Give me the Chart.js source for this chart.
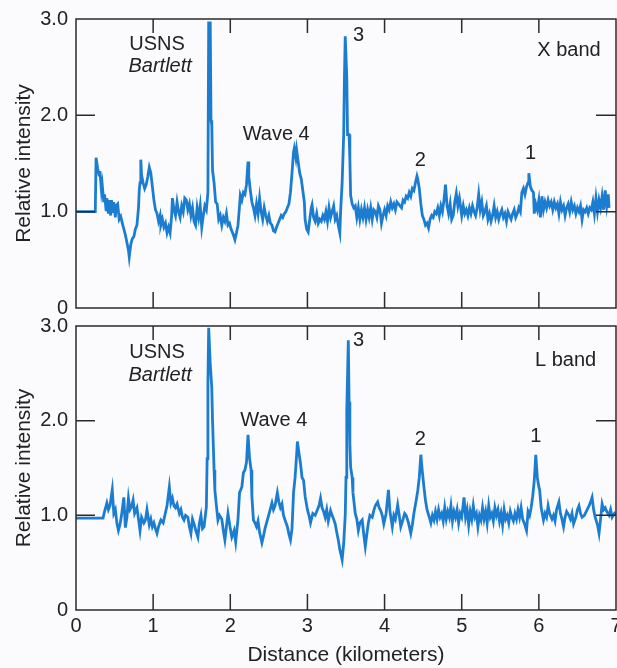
<!DOCTYPE html>
<html>
<head>
<meta charset="utf-8">
<script src="https://cdn.jsdelivr.net/npm/chart.js@4.4.1/dist/chart.umd.min.js"></script>
<style>
  body { margin: 0; background: #fbfbfd; }
  #topChart { position: absolute; left: 0; top: 0; }
  #bottomChart { position: absolute; left: 0; top: 310px; }
</style>
</head>
<body>
<canvas id="topChart" width="617" height="320"></canvas>
<canvas id="bottomChart" width="617" height="358"></canvas>
<script>

// X band trace (distance in km, relative intensity)
const xBandKm = [
  0, 0.25, 0.26, 0.28, 0.30, 0.31, 0.33, 0.34, 0.36, 0.37,
  0.39, 0.40, 0.42, 0.43, 0.45, 0.46, 0.48, 0.49, 0.51, 0.52,
  0.54, 0.56, 0.58, 0.60, 0.62, 0.64, 0.66, 0.68, 0.69, 0.71,
  0.73, 0.75, 0.77, 0.79, 0.81, 0.82, 0.83, 0.84, 0.85, 0.87,
  0.89, 0.91, 0.93, 0.95, 0.97, 0.99, 1.01, 1.03, 1.05, 1.07,
  1.09, 1.10, 1.12, 1.14, 1.16, 1.18, 1.20, 1.22, 1.24, 1.25,
  1.27, 1.29, 1.31, 1.33, 1.35, 1.37, 1.39, 1.41, 1.43, 1.45,
  1.47, 1.49, 1.51, 1.53, 1.55, 1.57, 1.59, 1.61, 1.63, 1.65,
  1.67, 1.69, 1.71, 1.72, 1.74, 1.75, 1.76, 1.77, 1.79, 1.81,
  1.83, 1.85, 1.87, 1.89, 1.91, 1.93, 1.95, 1.97, 1.99, 2.01,
  2.04, 2.06, 2.08, 2.10, 2.12, 2.13, 2.15, 2.17, 2.19, 2.21,
  2.23, 2.24, 2.26, 2.28, 2.30, 2.32, 2.34, 2.36, 2.38, 2.40,
  2.42, 2.44, 2.46, 2.48, 2.50, 2.52, 2.54, 2.56, 2.58, 2.60,
  2.62, 2.64, 2.66, 2.68, 2.70, 2.72, 2.74, 2.76, 2.78, 2.80,
  2.82, 2.83, 2.85, 2.86, 2.88, 2.90, 2.92, 2.94, 2.96, 2.97,
  2.99, 3.01, 3.03, 3.05, 3.06, 3.08, 3.10, 3.12, 3.14, 3.16,
  3.18, 3.20, 3.22, 3.24, 3.26, 3.28, 3.30, 3.32, 3.34, 3.36,
  3.38, 3.40, 3.42, 3.43, 3.45, 3.47, 3.48, 3.49, 3.51, 3.52,
  3.54, 3.55, 3.56, 3.58, 3.60, 3.62, 3.64, 3.66, 3.68, 3.70,
  3.72, 3.74, 3.76, 3.78, 3.80, 3.82, 3.84, 3.86, 3.88, 3.90,
  3.92, 3.94, 3.96, 3.98, 4.00, 4.02, 4.04, 4.06, 4.08, 4.10,
  4.12, 4.14, 4.16, 4.18, 4.20, 4.22, 4.24, 4.26, 4.28, 4.30,
  4.32, 4.34, 4.36, 4.38, 4.40, 4.42, 4.43, 4.45, 4.47, 4.49,
  4.51, 4.53, 4.55, 4.57, 4.59, 4.61, 4.63, 4.65, 4.67, 4.69,
  4.71, 4.73, 4.75, 4.77, 4.79, 4.81, 4.83, 4.85, 4.87, 4.89,
  4.91, 4.93, 4.95, 4.97, 5.00, 5.02, 5.04, 5.06, 5.08, 5.10,
  5.12, 5.14, 5.16, 5.18, 5.20, 5.22, 5.24, 5.26, 5.28, 5.30,
  5.32, 5.34, 5.36, 5.38, 5.40, 5.42, 5.44, 5.46, 5.48, 5.50,
  5.52, 5.54, 5.56, 5.58, 5.60, 5.62, 5.64, 5.66, 5.68, 5.70,
  5.72, 5.74, 5.76, 5.78, 5.80, 5.82, 5.84, 5.86, 5.87, 5.89,
  5.91, 5.93, 5.94, 5.96, 5.98, 6.00, 6.02, 6.04, 6.06, 6.08,
  6.10, 6.12, 6.14, 6.16, 6.18, 6.20, 6.22, 6.24, 6.26, 6.28,
  6.30, 6.32, 6.34, 6.36, 6.38, 6.40, 6.42, 6.44, 6.46, 6.48,
  6.50, 6.52, 6.54, 6.56, 6.58, 6.60, 6.62, 6.64, 6.66, 6.68,
  6.70, 6.72, 6.74, 6.76, 6.78, 6.80, 6.82, 6.84, 6.86, 6.88,
  6.90, 6.91
];
const xBandIntensity = [
  1.00, 1.00, 1.56, 1.45, 1.38, 1.42, 1.22, 1.28, 1.10, 1.18,
  1.02, 1.14, 0.98, 1.12, 0.96, 1.12, 1.00, 1.10, 0.94, 1.06,
  1.08, 0.92, 0.95, 0.88, 0.82, 0.76, 0.68, 0.60, 0.53, 0.66,
  0.72, 0.74, 0.82, 0.86, 1.04, 1.22, 1.30, 1.54, 1.38, 1.30,
  1.24, 1.28, 1.36, 1.46, 1.40, 1.26, 1.12, 1.02, 0.98, 0.90,
  0.96, 0.86, 0.92, 0.84, 0.88, 0.78, 0.84, 0.78, 0.96, 1.14,
  1.02, 0.96, 1.10, 1.00, 0.94, 1.06, 1.00, 1.14, 1.12, 1.02,
  1.08, 0.96, 1.04, 0.90, 0.86, 1.04, 0.94, 1.06, 0.84, 0.96,
  1.06, 1.02, 1.20, 2.96, 2.96, 1.95, 1.90, 1.43, 1.30, 1.10,
  1.08, 0.92, 0.96, 0.86, 0.94, 0.90, 0.98, 0.86, 0.88, 0.82,
  0.76, 0.71, 0.78, 0.86, 1.06, 1.17, 1.12, 1.20, 1.18, 1.28,
  1.52, 1.36, 1.22, 1.10, 1.04, 0.96, 1.08, 0.98, 1.14, 1.00,
  0.92, 1.04, 0.96, 0.90, 0.96, 0.88, 0.86, 0.80, 0.79, 0.84,
  0.88, 0.92, 0.96, 0.94, 0.98, 1.00, 1.04, 1.08, 1.20, 1.40,
  1.62, 1.66, 1.56, 1.64, 1.52, 1.40, 1.34, 1.22, 1.10, 0.92,
  0.82, 0.79, 0.92, 1.04, 1.07, 0.94, 0.90, 0.98, 0.88, 0.92,
  0.90, 0.96, 0.92, 1.00, 0.90, 1.04, 0.94, 1.00, 1.06, 0.92,
  0.96, 0.86, 0.78, 1.00, 1.30, 1.80, 2.40, 2.82, 2.40, 1.80,
  1.80, 1.55, 1.17, 1.08, 1.04, 1.06, 0.94, 1.04, 0.92, 1.02,
  0.94, 1.04, 0.92, 1.02, 0.94, 1.04, 0.92, 1.02, 1.00, 0.94,
  1.06, 1.02, 0.88, 0.96, 1.02, 0.96, 1.06, 1.02, 1.10, 1.04,
  1.08, 1.02, 1.10, 1.08, 1.06, 1.04, 1.12, 1.10, 1.16, 1.14,
  1.20, 1.16, 1.24, 1.22, 1.30, 1.37, 1.34, 1.24, 1.08, 0.96,
  0.92, 0.86, 0.88, 0.83, 0.92, 0.96, 0.94, 1.00, 0.98, 1.04,
  0.96, 1.06, 1.00, 1.12, 1.28, 1.06, 0.98, 1.08, 0.92, 0.96,
  1.10, 1.19, 1.06, 1.14, 0.96, 1.06, 0.98, 1.02, 0.96, 1.04,
  0.98, 1.06, 1.00, 0.96, 1.04, 1.18, 1.02, 1.10, 0.96, 1.00,
  1.06, 0.92, 0.98, 0.90, 0.96, 1.06, 0.94, 1.00, 0.92, 0.98,
  1.02, 0.94, 0.98, 0.90, 1.00, 0.96, 0.92, 0.98, 1.02, 0.94,
  0.98, 1.04, 1.00, 1.20, 1.24, 1.18, 1.26, 1.30, 1.40, 1.26,
  1.22, 1.20, 0.98, 1.08, 1.02, 1.12, 0.94, 1.16, 1.02, 1.10,
  1.04, 1.12, 1.06, 1.10, 1.02, 1.10, 1.04, 1.08, 0.98, 1.10,
  1.02, 1.06, 0.96, 1.04, 1.08, 1.00, 1.10, 1.02, 1.06, 0.98,
  1.04, 1.00, 1.06, 0.92, 1.02, 1.00, 1.04, 0.98, 1.04, 1.02,
  1.10, 0.98, 1.14, 1.00, 1.12, 1.04, 1.16, 1.02, 1.22, 1.06,
  1.18, 1.04
];

// L band trace
const lBandKm = [
  0, 0.35, 0.37, 0.40, 0.42, 0.44, 0.47, 0.49, 0.51, 0.53,
  0.55, 0.57, 0.59, 0.62, 0.64, 0.66, 0.68, 0.70, 0.72, 0.74,
  0.76, 0.79, 0.81, 0.83, 0.85, 0.88, 0.90, 0.92, 0.95, 0.97,
  0.99, 1.01, 1.03, 1.05, 1.07, 1.10, 1.13, 1.16, 1.18, 1.21,
  1.23, 1.25, 1.27, 1.29, 1.31, 1.34, 1.36, 1.38, 1.40, 1.42,
  1.45, 1.47, 1.49, 1.51, 1.53, 1.55, 1.58, 1.60, 1.62, 1.64,
  1.66, 1.68, 1.69, 1.70, 1.71, 1.72, 1.74, 1.76, 1.77, 1.79,
  1.80, 1.82, 1.84, 1.86, 1.89, 1.91, 1.93, 1.95, 1.97, 2.00,
  2.02, 2.05, 2.07, 2.10, 2.12, 2.15, 2.17, 2.19, 2.21, 2.23,
  2.25, 2.27, 2.28, 2.30, 2.32, 2.34, 2.36, 2.38, 2.41, 2.43,
  2.45, 2.48, 2.51, 2.54, 2.56, 2.58, 2.61, 2.63, 2.65, 2.67,
  2.69, 2.71, 2.74, 2.76, 2.78, 2.80, 2.82, 2.84, 2.86, 2.87,
  2.89, 2.91, 2.93, 2.95, 2.97, 3.00, 3.02, 3.04, 3.07, 3.10,
  3.12, 3.15, 3.17, 3.19, 3.21, 3.23, 3.25, 3.27, 3.30, 3.32,
  3.34, 3.36, 3.38, 3.40, 3.42, 3.45, 3.47, 3.49, 3.50, 3.51,
  3.53, 3.54, 3.55, 3.56, 3.58, 3.59, 3.62, 3.64, 3.66, 3.68,
  3.71, 3.73, 3.75, 3.77, 3.79, 3.81, 3.84, 3.86, 3.88, 3.91,
  3.93, 3.95, 3.97, 3.99, 4.02, 4.05, 4.07, 4.10, 4.12, 4.14,
  4.17, 4.19, 4.21, 4.24, 4.26, 4.28, 4.31, 4.34, 4.36, 4.38,
  4.41, 4.43, 4.45, 4.47, 4.49, 4.51, 4.53, 4.55, 4.58, 4.60,
  4.62, 4.64, 4.66, 4.68, 4.70, 4.72, 4.74, 4.76, 4.78, 4.80,
  4.82, 4.84, 4.86, 4.88, 4.90, 4.92, 4.94, 4.96, 4.98, 5.00,
  5.03, 5.05, 5.07, 5.09, 5.11, 5.13, 5.15, 5.17, 5.19, 5.21,
  5.23, 5.25, 5.27, 5.29, 5.31, 5.33, 5.35, 5.37, 5.39, 5.41,
  5.43, 5.45, 5.47, 5.49, 5.51, 5.53, 5.55, 5.57, 5.59, 5.61,
  5.63, 5.65, 5.67, 5.69, 5.71, 5.73, 5.75, 5.77, 5.79, 5.81,
  5.84, 5.86, 5.88, 5.90, 5.92, 5.94, 5.96, 5.98, 6.00, 6.01,
  6.03, 6.06, 6.08, 6.10, 6.12, 6.14, 6.17, 6.19, 6.21, 6.23,
  6.26, 6.28, 6.30, 6.32, 6.34, 6.36, 6.39, 6.41, 6.43, 6.45,
  6.48, 6.50, 6.52, 6.54, 6.56, 6.59, 6.62, 6.65, 6.67, 6.69,
  6.71, 6.73, 6.76, 6.78, 6.80, 6.82, 6.84, 6.86, 6.88, 6.91,
  6.93, 6.95, 6.98, 7.00
];
const lBandIntensity = [
  0.97, 0.97, 1.04, 1.13, 1.06, 1.10, 1.27, 1.02, 1.06, 0.92,
  0.84, 0.90, 1.00, 1.19, 0.87, 0.98, 1.18, 1.06, 1.09, 1.16,
  1.02, 1.08, 0.96, 0.84, 0.98, 0.92, 0.95, 1.06, 0.90, 0.96,
  0.88, 0.92, 0.86, 0.81, 0.88, 0.95, 0.92, 1.03, 1.10, 1.30,
  1.13, 1.18, 1.10, 1.08, 1.12, 1.02, 1.06, 0.98, 0.95, 1.00,
  0.98, 0.88, 0.81, 0.96, 0.91, 0.85, 0.77, 0.92, 1.00, 0.86,
  0.88, 1.02, 1.09, 1.60, 2.40, 2.98, 2.60, 2.35, 2.00, 1.48,
  1.27, 1.10, 0.95, 1.00, 0.96, 0.84, 0.74, 0.88, 1.02, 0.86,
  0.77, 0.84, 0.72, 0.96, 1.24, 1.30, 1.45, 1.48, 1.56, 1.85,
  1.60, 1.48, 1.20, 0.95, 0.92, 0.88, 0.94, 0.82, 0.71, 0.78,
  0.86, 0.95, 1.04, 1.13, 1.06, 1.10, 1.24, 1.14, 1.08, 1.12,
  1.00, 0.95, 0.88, 0.80, 0.74, 0.86, 1.24, 1.40, 1.64, 1.78,
  1.66, 1.55, 1.40, 1.37, 1.20, 1.06, 1.00, 0.92, 1.02, 1.00,
  1.04, 1.10, 1.18, 1.08, 1.04, 0.98, 1.06, 0.94, 1.05, 1.00,
  0.96, 0.91, 0.82, 0.74, 0.64, 0.53, 0.70, 1.00, 1.40, 2.10,
  2.85, 2.20, 1.76, 1.51, 1.40, 1.24, 1.02, 0.96, 0.84, 0.92,
  0.95, 0.80, 0.67, 0.80, 0.92, 1.00, 0.98, 1.05, 1.10, 1.14,
  1.08, 1.05, 1.00, 0.91, 1.02, 1.27, 1.04, 0.88, 1.00, 0.96,
  1.11, 1.00, 0.88, 0.96, 1.02, 1.00, 0.92, 0.81, 0.90, 1.02,
  1.16, 1.26, 1.40, 1.64, 1.46, 1.30, 1.16, 1.06, 0.98, 0.92,
  1.00, 0.95, 1.04, 0.96, 1.06, 0.98, 1.02, 0.94, 1.08, 0.96,
  1.04, 0.98, 1.10, 0.94, 1.04, 0.98, 1.06, 0.92, 1.02, 0.98,
  1.19, 0.98, 1.06, 0.90, 1.04, 0.96, 1.10, 0.98, 1.02, 0.88,
  1.00, 0.95, 1.08, 0.96, 1.04, 0.92, 1.10, 0.98, 1.02, 0.94,
  1.08, 1.00, 1.06, 0.94, 1.02, 0.90, 1.06, 0.96, 1.00, 0.92,
  1.04, 0.98, 0.94, 1.02, 0.96, 1.06, 0.98, 1.08, 0.96, 0.92,
  0.84, 1.04, 1.00, 1.08, 1.20, 1.36, 1.64, 1.40, 1.30, 1.27,
  1.08, 0.95, 1.02, 0.98, 1.10, 1.02, 0.96, 1.00, 0.94, 1.06,
  1.14, 1.02, 0.96, 0.88, 0.98, 1.04, 1.00, 0.96, 1.02, 0.91,
  0.98, 1.06, 1.10, 1.02, 0.98, 1.00, 1.05, 1.10, 1.14, 1.19,
  1.06, 0.98, 0.90, 0.81, 0.96, 1.12, 1.06, 1.08, 1.04, 1.00,
  1.06, 0.98, 1.02, 1.00
];

const distanceTicks = [0, 1, 2, 3, 4, 5, 6, 7];
const intensityTicks = [0, 1, 2, 3];

// text labels placed in data units (km, intensity)
const xBandNotes = [
  { text: 'USNS', km: 0.69, at: 2.74 },
  { text: 'Bartlett', km: 0.68, at: 2.51, italic: true },
  { text: 'Wave 4', km: 2.16, at: 1.80 },
  { text: '3', km: 3.59, at: 2.83 },
  { text: '2', km: 4.39, at: 1.53 },
  { text: '1', km: 5.82, at: 1.60 },
  { text: 'X band', km: 5.98, at: 2.67 }
];
const lBandNotes = [
  { text: 'USNS', km: 0.69, at: 2.72 },
  { text: 'Bartlett', km: 0.68, at: 2.48, italic: true },
  { text: 'Wave 4', km: 2.13, at: 2.00 },
  { text: '3', km: 3.59, at: 2.85 },
  { text: '2', km: 4.39, at: 1.80 },
  { text: '1', km: 5.89, at: 1.83 },
  { text: 'L band', km: 5.95, at: 2.64 }
];

const FONT = "'Liberation Sans', Arial, sans-serif";
const INK = '#222';
const TRACE = '#1c7dd0';

// box round the plot with short ticks pointing inwards
const frameTicks = {
  id: 'frameTicks',
  afterDatasetsDraw(chart) {
    const { ctx, chartArea: a, scales: { x, y } } = chart;
    ctx.save();
    ctx.strokeStyle = '#2b2b2b';
    ctx.lineWidth = 1.5;
    ctx.strokeRect(a.left, a.top, a.right - a.left, a.bottom - a.top);
    ctx.beginPath();
    distanceTicks.slice(1, -1).forEach(km => {
      const px = x.getPixelForValue(km);
      ctx.moveTo(px, a.top);
      ctx.lineTo(px, a.top + 14);
      ctx.moveTo(px, a.bottom);
      ctx.lineTo(px, a.bottom - 16);
    });
    intensityTicks.slice(1, -1).forEach(v => {
      const py = y.getPixelForValue(v);
      ctx.moveTo(a.left, py);
      ctx.lineTo(a.left + 19, py);
      ctx.moveTo(a.right, py);
      ctx.lineTo(a.right - 20, py);
    });
    ctx.stroke();
    ctx.restore();
  }
};

const notes = {
  id: 'notes',
  afterDatasetsDraw(chart, args, opts) {
    const { ctx, scales: { x, y } } = chart;
    ctx.save();
    ctx.fillStyle = INK;
    ctx.textBaseline = 'middle';
    ctx.textAlign = 'left';
    (opts.items || []).forEach(n => {
      ctx.font = (n.italic ? 'italic ' : '') + '20px ' + FONT;
      ctx.fillText(n.text, x.getPixelForValue(n.km), y.getPixelForValue(n.at));
    });
    ctx.restore();
  }
};

function makeChart(id, km, intensity, noteList, showDistance) {
  const points = km.map((d, i) => ({ x: d, y: intensity[i] }));
  return new Chart(document.getElementById(id), {
    type: 'line',
    data: {
      datasets: [{
        data: points,
        borderColor: TRACE,
        borderWidth: 2.8,
        pointRadius: 0,
        tension: 0,
        fill: false
      }]
    },
    options: {
      responsive: false,
      animation: false,
      devicePixelRatio: 1,
      layout: { padding: showDistance ? { top: 16, right: 1, bottom: 0, left: 0 } : { top: 19, right: 1, bottom: 12, left: 0 } },
      plugins: {
        legend: { display: false },
        tooltip: { enabled: false },
        notes: { items: noteList }
      },
      scales: {
        x: {
          type: 'linear',
          display: showDistance,
          min: 0,
          max: 7,
          afterBuildTicks: s => { s.ticks = distanceTicks.map(v => ({ value: v })); },
          afterFit: s => {
            s.height = showDistance ? 58 : 0;
            s.paddingLeft = 0;
            s.paddingRight = 0;
          },
          grid: { display: false, drawTicks: false },
          border: { display: false },
          ticks: { color: INK, font: { family: FONT, size: 20 }, padding: 4, maxRotation: 0, autoSkip: false },
          title: { display: true, text: 'Distance (kilometers)', color: INK, font: { family: FONT, size: 21 }, padding: { top: 0, bottom: 0 } }
        },
        y: {
          min: 0,
          max: 3,
          afterBuildTicks: s => { s.ticks = intensityTicks.map(v => ({ value: v })); },
          afterFit: s => { s.width = 76; s.paddingTop = 0; s.paddingBottom = 0; },
          grid: { display: false, drawTicks: false },
          border: { display: false },
          ticks: {
            color: INK,
            font: { family: FONT, size: 20 },
            padding: 8,
            callback: v => v === 0 ? '0' : v.toFixed(1)
          },
          title: { display: true, text: 'Relative intensity', color: INK, font: { family: FONT, size: 21 }, padding: { top: 12, bottom: 0 } }
        }
      }
    },
    plugins: [frameTicks, notes]
  });
}

makeChart('topChart', xBandKm, xBandIntensity, xBandNotes, false);
makeChart('bottomChart', lBandKm, lBandIntensity, lBandNotes, true);
</script>
</body>
</html>
